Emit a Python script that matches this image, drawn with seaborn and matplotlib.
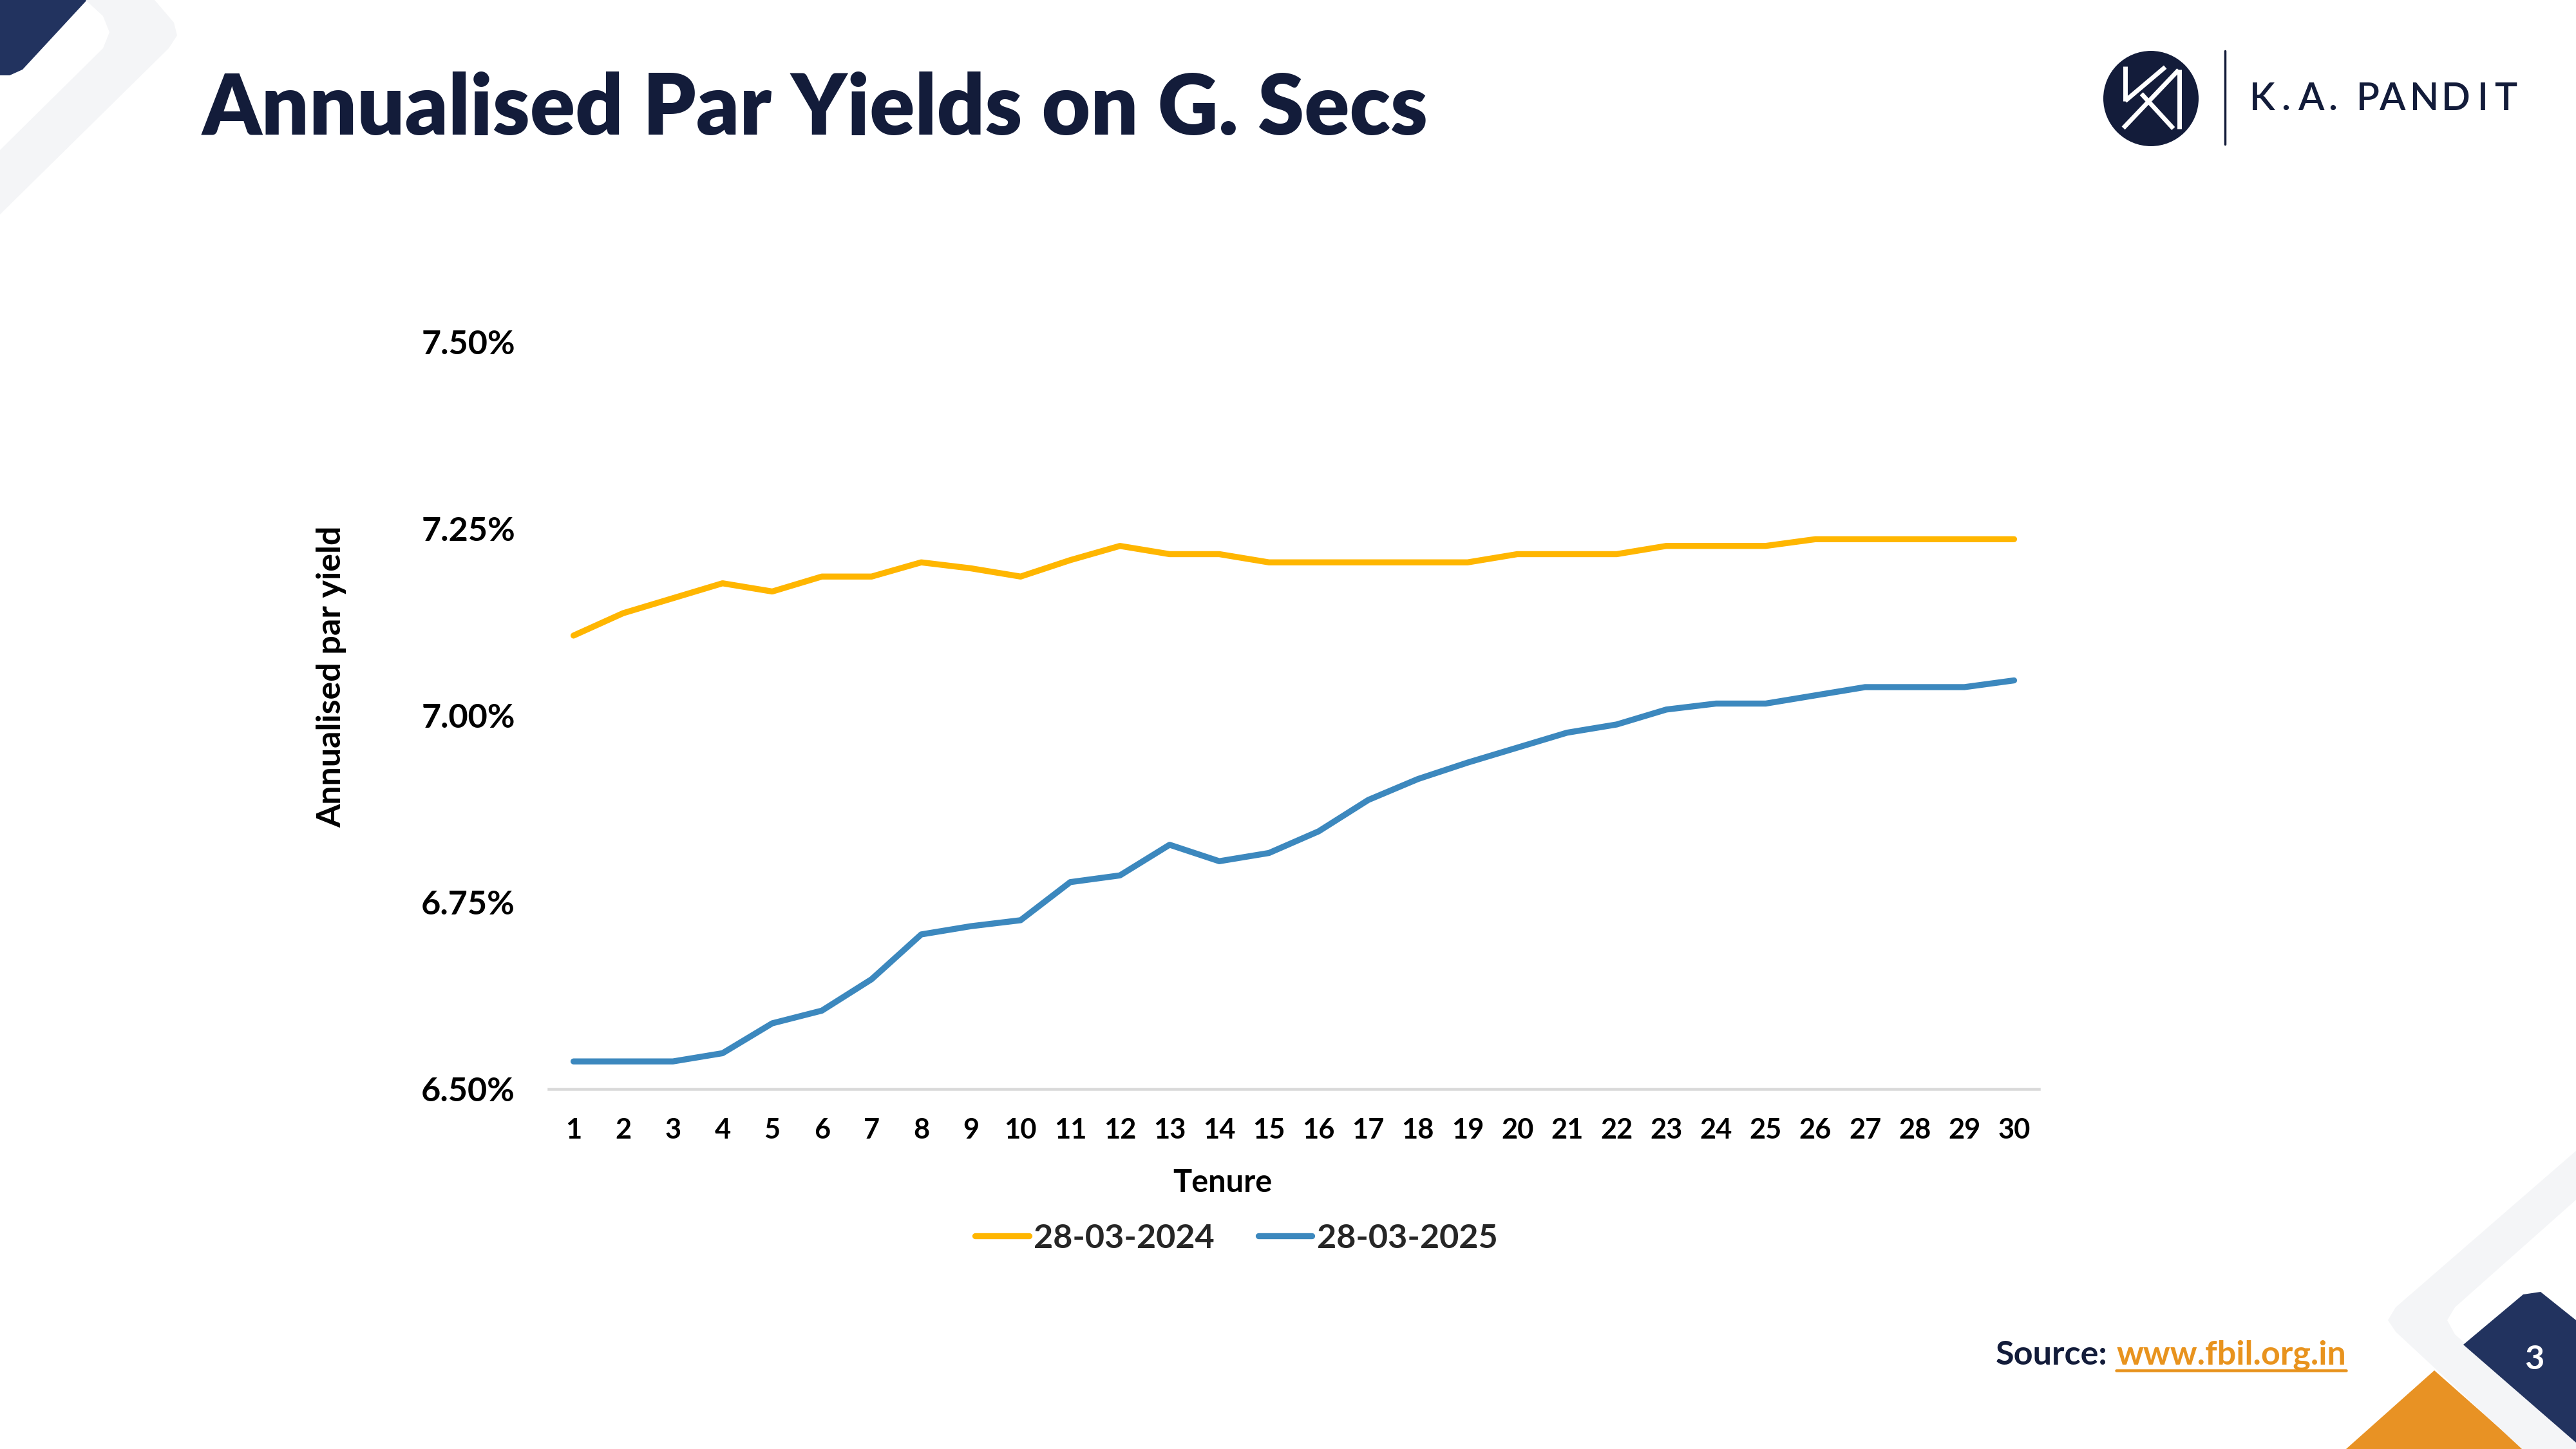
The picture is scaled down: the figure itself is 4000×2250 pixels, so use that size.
import numpy as np
import pandas as pd
import seaborn as sns
import matplotlib.pyplot as plt
from matplotlib.patches import Polygon, Circle
from matplotlib.ticker import FuncFormatter
plt.switch_backend('agg')

# data
tenure = list(range(1, 31))
yield_2024 = [7.107, 7.137, 7.157, 7.177, 7.166, 7.186, 7.186, 7.205, 7.197, 7.186,
              7.208, 7.227, 7.216, 7.216, 7.205, 7.205, 7.205, 7.205, 7.205, 7.216,
              7.216, 7.216, 7.227, 7.227, 7.227, 7.236, 7.236, 7.236, 7.236, 7.236]
yield_2025 = [6.537, 6.537, 6.537, 6.548, 6.588, 6.605, 6.647, 6.707, 6.718, 6.726,
              6.777, 6.786, 6.827, 6.805, 6.816, 6.845, 6.887, 6.915, 6.937, 6.957,
              6.977, 6.988, 7.008, 7.016, 7.016, 7.027, 7.038, 7.038, 7.038, 7.047]
series_names = ['28-03-2024', '28-03-2025']
y_ticks = [6.50, 6.75, 7.00, 7.25, 7.50]

NAVY = '#131c3a'
NAVY2 = '#22335f'
GREY = '#f4f5f7'
ORANGE = '#e8931e'
palette = {'28-03-2024': '#ffb600', '28-03-2025': '#3c88be'}

df = pd.DataFrame({
    'Tenure': tenure * 2,
    'yield': yield_2024 + yield_2025,
    'date': [series_names[0]] * 30 + [series_names[1]] * 30,
})

sns.set_theme(style='white')
plt.rcParams['font.family'] = ['Lato', 'DejaVu Sans']

fig = plt.figure(figsize=(16, 9), dpi=250)

# background decorations in pixel coordinates (y down)
bg = fig.add_axes([0, 0, 1, 1], zorder=-1)
bg.set_xlim(0, 4000)
bg.set_ylim(2250, 0)
bg.axis('off')

bg.add_patch(Polygon([(0, 0), (135, 0), (35, 108), (15, 117), (0, 117)],
                     closed=True, fc=NAVY2, ec='none'))
bg.add_patch(Polygon([(133, 0), (240, 0), (270, 35), (275, 55), (262, 75),
                      (0, 333), (0, 233), (160, 75), (170, 50), (160, 25)],
                     closed=True, fc=GREY, ec='none'))

bg.add_patch(Polygon([(3643, 2250), (3780, 2128), (3918, 2250)],
                     closed=True, fc='#e89224', ec='none'))
bg.add_patch(Polygon([(4000, 1787), (3720, 2030), (3708, 2050), (3720, 2068),
                      (3916, 2250), (4000, 2250), (4000, 2240), (3812, 2072),
                      (3800, 2050), (3812, 2030), (4000, 1863)],
                     closed=True, fc=GREY, ec='none'))
bg.add_patch(Polygon([(3825, 2088), (3918, 2010), (3945, 2006), (4000, 2050),
                      (4000, 2240)], closed=True, fc=NAVY2, ec='none'))
bg.text(3935, 2112, '3', color='white', fontsize=15, fontweight='bold',
        ha='center', va='center')

# logo
cx, cy, r = 3340, 153, 74
bg.add_patch(Circle((cx, cy), r, fc=NAVY, ec='none'))
mono = [((-0.54, 0.68), (-0.54, -0.05)),
        ((-0.54, -0.05), (0.30, 0.66)),
        ((-0.58, -0.62), (0.58, 0.60)),
        ((0.60, 0.61), (0.60, -0.63)),
        ((-0.20, 0.10), (0.47, -0.63))]
for (x0, y0), (x1, y1) in mono:
    bg.plot([cx + x0 * r, cx + x1 * r], [cy - y0 * r, cy - y1 * r],
            color='white', lw=2.0, solid_capstyle='butt')
bg.plot([3455, 3455], [79, 224], color=NAVY, lw=1.0)
logo_chars = ['K', '.', 'A', '.', 'P', 'A', 'N', 'D', 'I', 'T']
logo_x = [3513, 3549, 3588, 3622, 3677, 3714, 3765, 3813, 3855, 3891]
for ch, lx in zip(logo_chars, logo_x):
    bg.text(lx, 154, ch, color=NAVY, fontsize=17, fontweight='semibold',
            ha='center', va='center')

fig.text(314 / 4000, 1 - 209 / 2250, 'Annualised Par Yields on G. Secs',
         fontsize=37.5, fontweight='heavy', color=NAVY, ha='left', va='baseline')

# main chart
ax = fig.add_axes([0.213, 0.2484, 0.5785, 0.5156])
ax.patch.set_alpha(0)
sns.lineplot(data=df, x='Tenure', y='yield', hue='date', palette=palette,
             linewidth=2.7, ax=ax, legend=False)
ax.set_xlim(0.5, 30.5)
ax.set_ylim(6.5, 7.5)
ax.set_xticks(tenure)
ax.set_yticks(y_ticks)
ax.yaxis.set_major_formatter(FuncFormatter(lambda v, p: f'{v:.2f}%'))
for s in ['top', 'right', 'left']:
    ax.spines[s].set_visible(False)
ax.spines['bottom'].set_color('#d9d9d9')
ax.spines['bottom'].set_linewidth(1.3)
ax.tick_params(axis='y', length=0, pad=15, labelsize=15, labelcolor='black')
ax.tick_params(axis='x', length=0, pad=12.5, labelsize=12.5, labelcolor='black')
for lab in ax.get_xticklabels() + ax.get_yticklabels():
    lab.set_fontweight('bold')
ax.grid(False)

ax.set_xlabel('Tenure', fontsize=14, fontweight='bold', color='black')
ax.xaxis.label.set_va('center')
ax.xaxis.set_label_coords(0.452, -0.125)
ax.set_ylabel('Annualised par yield', fontsize=15, fontweight='bold', color='black')
ax.yaxis.label.set_va('center')
ax.yaxis.set_label_coords(-0.1456, 0.552)

handles = [plt.Line2D([], [], color=palette[n], lw=2.7) for n in series_names]
fig.legend(handles, series_names, loc='center', bbox_to_anchor=(0.480, 0.1453),
           ncol=2, frameon=False, handlelength=1.6, handletextpad=0.15,
           columnspacing=1.3, prop={'weight': 'bold', 'size': 15})

# source line
url = bg.text(3643, 2119, 'www.fbil.org.in', color=ORANGE, fontsize=15,
              fontweight='bold', ha='right', va='baseline')
fig.canvas.draw()
ext = url.get_window_extent()
x_left = ext.x0
bg.text(x_left - 14, 2119, 'Source:', color=NAVY, fontsize=15,
        fontweight='bold', ha='right', va='baseline')
bg.plot([x_left, ext.x1], [2128, 2128], color=ORANGE, lw=1.3)

fig.savefig('out.png', dpi=250)
